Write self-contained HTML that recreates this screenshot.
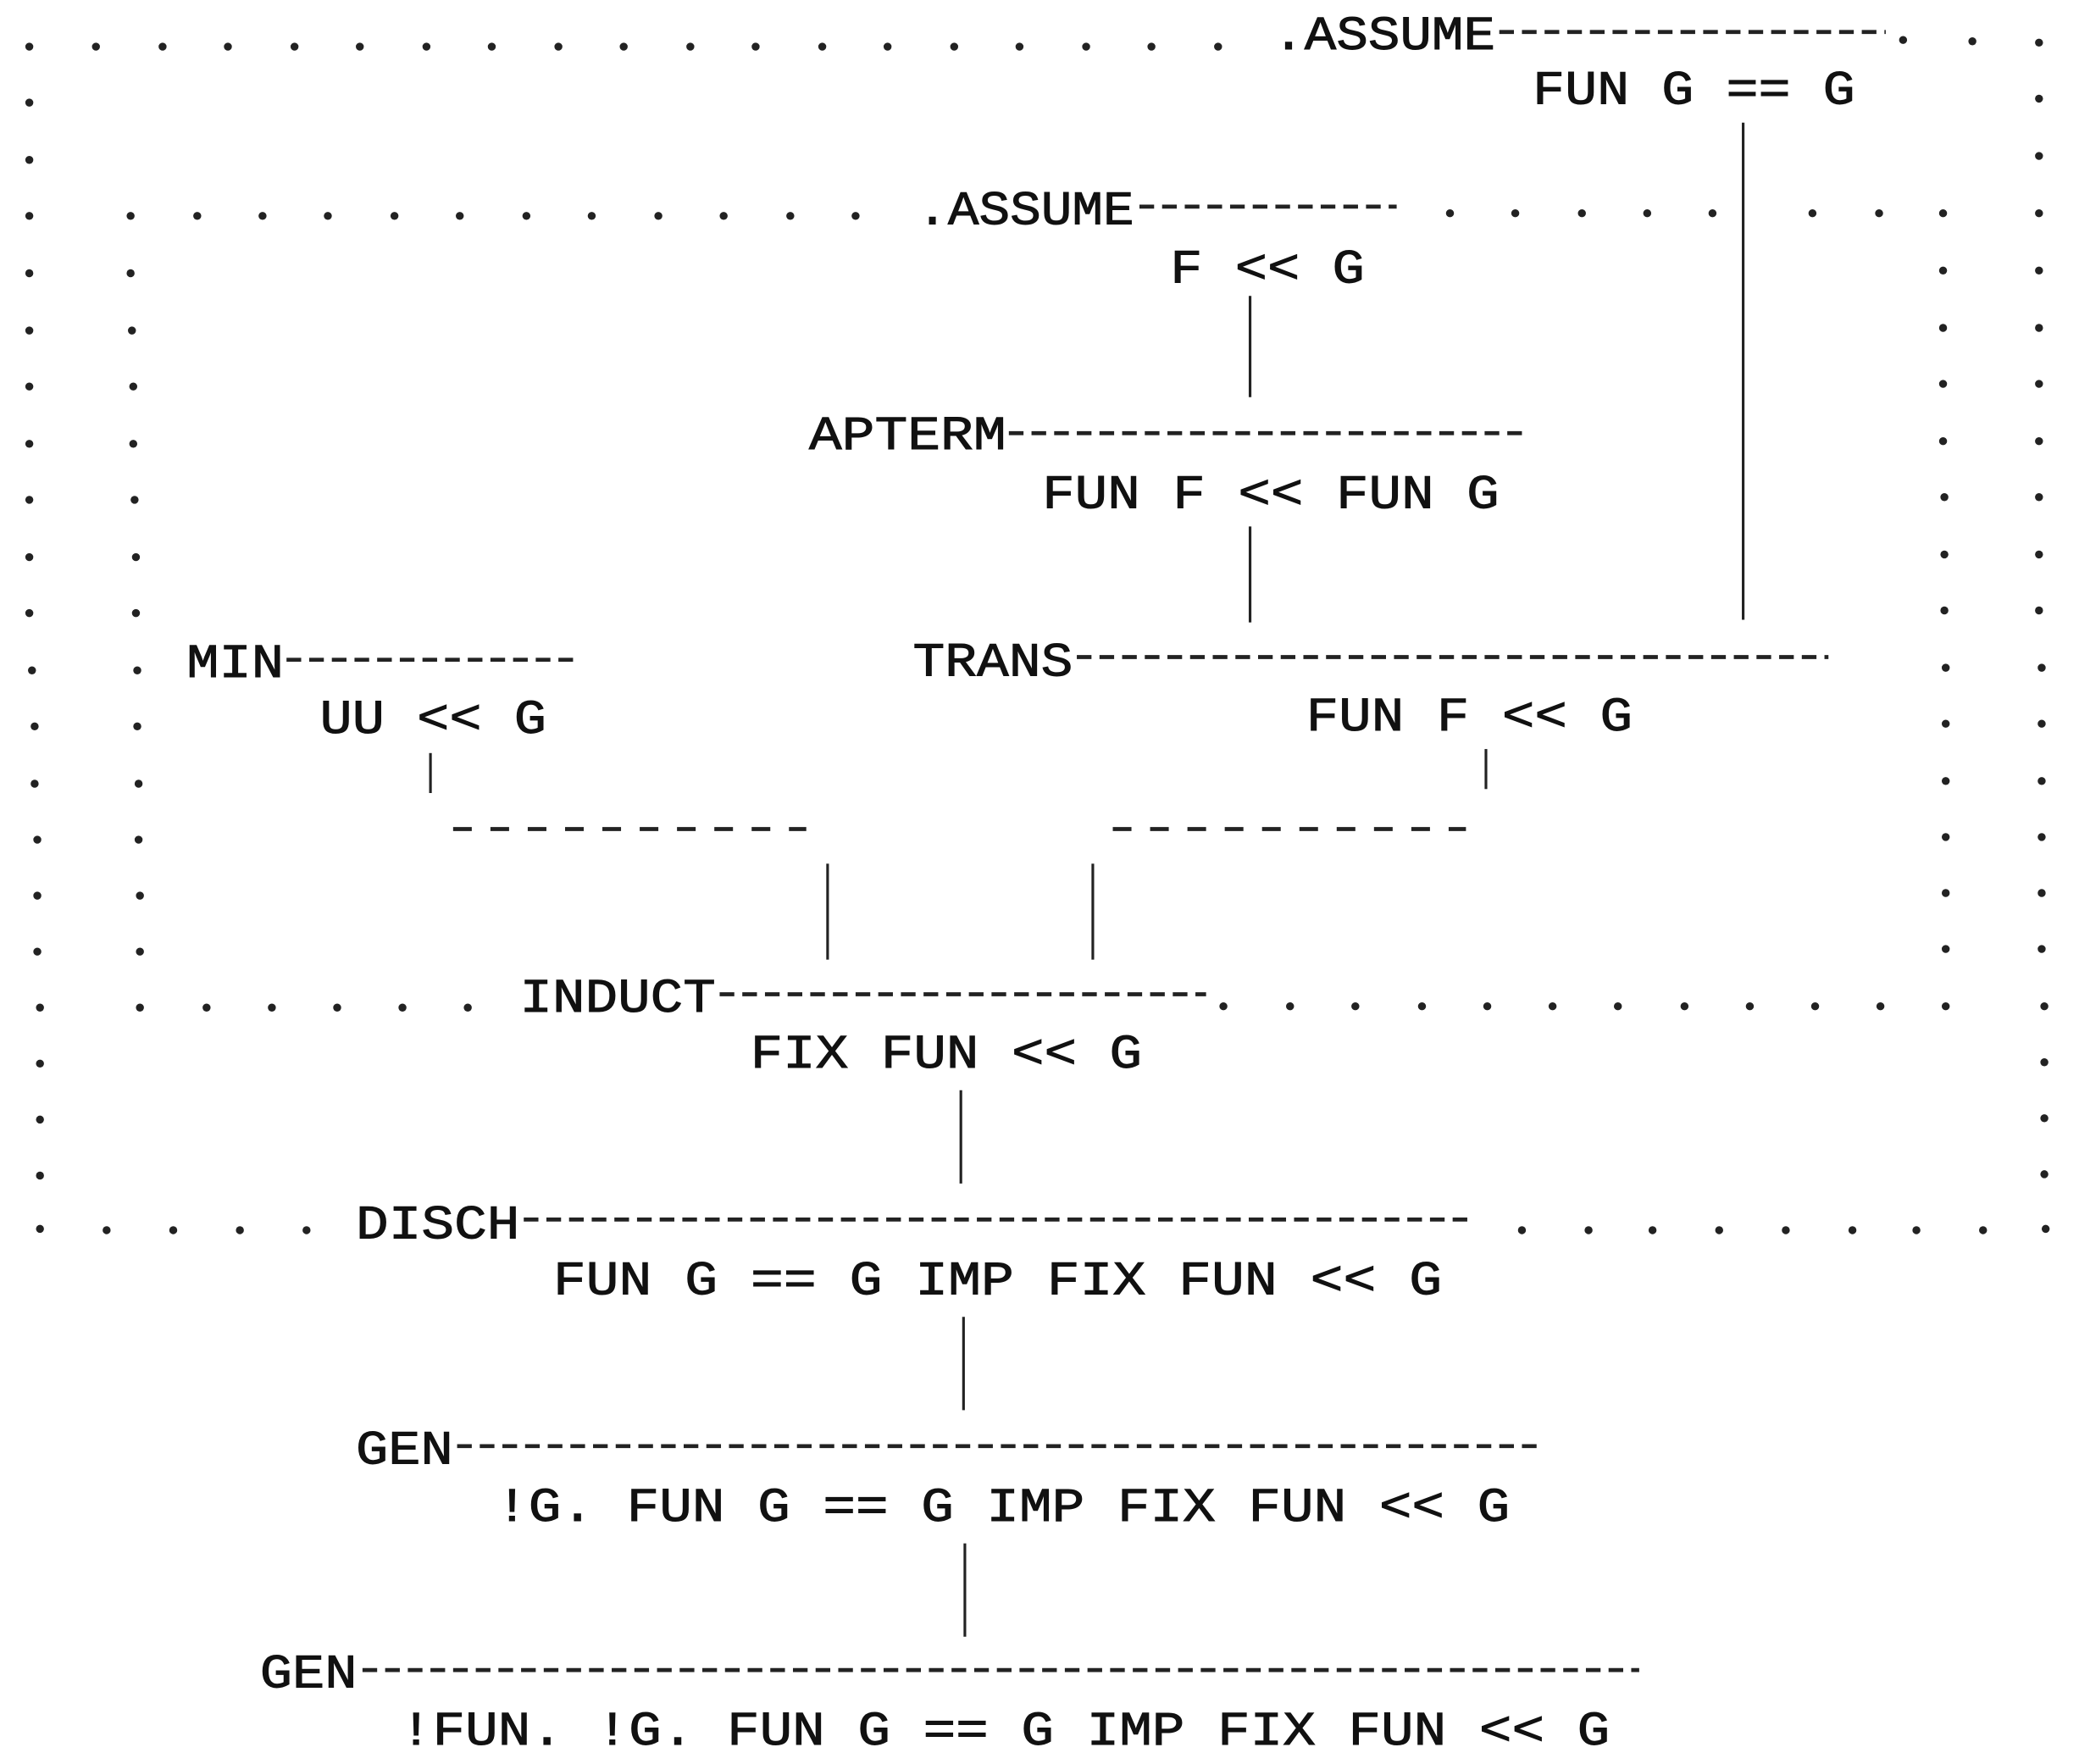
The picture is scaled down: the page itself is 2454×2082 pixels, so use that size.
<!DOCTYPE html>
<html><head><meta charset="utf-8"><style>
html,body{margin:0;padding:0;background:#fff;width:2454px;height:2082px;overflow:hidden}
svg{display:block}
text{font-family:"Liberation Mono",monospace;font-size:36px;fill:#111;stroke:#111;stroke-width:0.6}
.d{stroke:#222;stroke-width:3;stroke-dasharray:11 6;fill:none}
.v{stroke:#222;stroke-width:2;fill:none}
circle{fill:#222}
</style></head><body>
<svg width="2454" height="2082" viewBox="0 0 1560 1323.5" preserveAspectRatio="none">
<g id="dots">
<g>
<circle cx="22" cy="35" r="3"/><circle cx="22" cy="77" r="3"/><circle cx="22" cy="120" r="3"/><circle cx="22" cy="162" r="3"/><circle cx="22" cy="205" r="3"/><circle cx="22" cy="248" r="3"/><circle cx="22" cy="290" r="3"/><circle cx="22" cy="333" r="3"/><circle cx="22" cy="375" r="3"/><circle cx="22" cy="418" r="3"/><circle cx="22" cy="460" r="3"/><circle cx="24" cy="503" r="3"/><circle cx="26" cy="545" r="3"/><circle cx="26" cy="588" r="3"/><circle cx="28" cy="630" r="3"/><circle cx="28" cy="672" r="3"/><circle cx="28" cy="714" r="3"/><circle cx="30" cy="756" r="3"/><circle cx="30" cy="798" r="3"/><circle cx="30" cy="840" r="3"/><circle cx="30" cy="882" r="3"/><circle cx="30" cy="922" r="3"/>
<circle cx="1530" cy="32" r="3"/><circle cx="1530" cy="74" r="3"/><circle cx="1530" cy="117" r="3"/><circle cx="1530" cy="160" r="3"/><circle cx="1530" cy="203" r="3"/><circle cx="1530" cy="246" r="3"/><circle cx="1530" cy="288" r="3"/><circle cx="1530" cy="331" r="3"/><circle cx="1530" cy="373" r="3"/><circle cx="1530" cy="416" r="3"/><circle cx="1530" cy="458" r="3"/><circle cx="1532" cy="501" r="3"/><circle cx="1532" cy="543" r="3"/><circle cx="1532" cy="586" r="3"/><circle cx="1532" cy="628" r="3"/><circle cx="1532" cy="670" r="3"/><circle cx="1532" cy="712" r="3"/><circle cx="1534" cy="755" r="3"/><circle cx="1534" cy="797" r="3"/><circle cx="1534" cy="839" r="3"/><circle cx="1534" cy="881" r="3"/><circle cx="1535" cy="922" r="3"/>
</g>
<g>
<circle cx="72" cy="35" r="3"/><circle cx="122" cy="35" r="3"/><circle cx="171" cy="35" r="3"/><circle cx="221" cy="35" r="3"/><circle cx="270" cy="35" r="3"/><circle cx="320" cy="35" r="3"/><circle cx="369" cy="35" r="3"/><circle cx="419" cy="35" r="3"/><circle cx="468" cy="35" r="3"/><circle cx="518" cy="35" r="3"/><circle cx="567" cy="35" r="3"/><circle cx="617" cy="35" r="3"/><circle cx="666" cy="35" r="3"/><circle cx="716" cy="35" r="3"/><circle cx="765" cy="35" r="3"/><circle cx="815" cy="35" r="3"/><circle cx="864" cy="35" r="3"/><circle cx="914" cy="35" r="3"/>
<circle cx="1428" cy="30" r="3"/><circle cx="1480" cy="31" r="3"/>
</g>
<g>
<circle cx="98" cy="162" r="3"/><circle cx="148" cy="162" r="3"/><circle cx="197" cy="162" r="3"/><circle cx="246" cy="162" r="3"/><circle cx="296" cy="162" r="3"/><circle cx="345" cy="162" r="3"/><circle cx="395" cy="162" r="3"/><circle cx="444" cy="162" r="3"/><circle cx="494" cy="162" r="3"/><circle cx="543" cy="162" r="3"/><circle cx="593" cy="162" r="3"/><circle cx="642" cy="162" r="3"/>
<circle cx="1088" cy="160" r="3"/><circle cx="1137" cy="160" r="3"/><circle cx="1187" cy="160" r="3"/><circle cx="1236" cy="160" r="3"/><circle cx="1285" cy="160" r="3"/><circle cx="1360" cy="160" r="3"/><circle cx="1410" cy="160" r="3"/><circle cx="1458" cy="160" r="3"/>
</g>
<g>
<circle cx="98" cy="205" r="3"/><circle cx="99" cy="248" r="3"/><circle cx="100" cy="290" r="3"/><circle cx="100" cy="333" r="3"/><circle cx="101" cy="375" r="3"/><circle cx="102" cy="418" r="3"/><circle cx="102" cy="460" r="3"/><circle cx="103" cy="503" r="3"/><circle cx="103" cy="545" r="3"/><circle cx="104" cy="588" r="3"/><circle cx="104" cy="630" r="3"/><circle cx="105" cy="672" r="3"/><circle cx="105" cy="714" r="3"/>
<circle cx="1458" cy="203" r="3"/><circle cx="1458" cy="246" r="3"/><circle cx="1458" cy="288" r="3"/><circle cx="1458" cy="331" r="3"/><circle cx="1459" cy="373" r="3"/><circle cx="1459" cy="416" r="3"/><circle cx="1459" cy="458" r="3"/><circle cx="1460" cy="501" r="3"/><circle cx="1460" cy="543" r="3"/><circle cx="1460" cy="586" r="3"/><circle cx="1460" cy="628" r="3"/><circle cx="1460" cy="670" r="3"/><circle cx="1460" cy="712" r="3"/>
</g>
<g>
<circle cx="105" cy="756" r="3"/><circle cx="155" cy="756" r="3"/><circle cx="204" cy="756" r="3"/><circle cx="253" cy="756" r="3"/><circle cx="302" cy="756" r="3"/><circle cx="351" cy="756" r="3"/>
<circle cx="918" cy="755" r="3"/><circle cx="968" cy="755" r="3"/><circle cx="1017" cy="755" r="3"/><circle cx="1067" cy="755" r="3"/><circle cx="1116" cy="755" r="3"/><circle cx="1165" cy="755" r="3"/><circle cx="1214" cy="755" r="3"/><circle cx="1264" cy="755" r="3"/><circle cx="1313" cy="755" r="3"/><circle cx="1362" cy="755" r="3"/><circle cx="1411" cy="755" r="3"/><circle cx="1460" cy="755" r="3"/>
</g>
<g>
<circle cx="80" cy="923" r="3"/><circle cx="130" cy="923" r="3"/><circle cx="180" cy="923" r="3"/><circle cx="230" cy="923" r="3"/>
<circle cx="1142" cy="923" r="3"/><circle cx="1192" cy="923" r="3"/><circle cx="1240" cy="923" r="3"/><circle cx="1290" cy="923" r="3"/><circle cx="1340" cy="923" r="3"/><circle cx="1390" cy="923" r="3"/><circle cx="1438" cy="923" r="3"/><circle cx="1488" cy="923" r="3"/>
</g>
</g>

<line class="d" x1="1125" y1="24" x2="1415" y2="24"/>
<line class="d" x1="855" y1="155" x2="1048" y2="155"/>
<line class="d" x1="757" y1="325" x2="1148" y2="325"/>
<line class="d" x1="215" y1="495" x2="435" y2="495"/>
<line class="d" x1="808" y1="493" x2="1372" y2="493"/>
<line class="d" x1="340" y1="622" x2="605" y2="622" style="stroke-dasharray:14 14"/>
<line class="d" x1="835" y1="622" x2="1100" y2="622" style="stroke-dasharray:14 14"/>
<line class="d" x1="540" y1="746" x2="905" y2="746"/>
<line class="d" x1="393" y1="915" x2="1105" y2="915"/>
<line class="d" x1="343" y1="1085" x2="1155" y2="1085"/>
<line class="d" x1="272" y1="1253" x2="1230" y2="1253"/>

<line class="v" x1="1308" y1="92" x2="1308" y2="465"/>
<line class="v" x1="938" y1="222" x2="938" y2="298"/>
<line class="v" x1="938" y1="395" x2="938" y2="467"/>
<line class="v" x1="323" y1="565" x2="323" y2="595"/>
<line class="v" x1="1115" y1="562" x2="1115" y2="592"/>
<line class="v" x1="621" y1="648" x2="621" y2="720"/>
<line class="v" x1="820" y1="648" x2="820" y2="720"/>
<line class="v" x1="721" y1="818" x2="721" y2="888"/>
<line class="v" x1="723" y1="988" x2="723" y2="1058"/>
<line class="v" x1="724" y1="1158" x2="724" y2="1228"/>

<text x="955" y="37" textLength="167" lengthAdjust="spacingAndGlyphs">.ASSUME</text>
<text x="1150" y="78" textLength="242" lengthAdjust="spacingAndGlyphs">FUN G == G</text>
<text x="688" y="168" textLength="163" lengthAdjust="spacingAndGlyphs">.ASSUME</text>
<text x="878" y="212" textLength="146" lengthAdjust="spacingAndGlyphs">F &lt;&lt; G</text>
<text x="607" y="337" textLength="148" lengthAdjust="spacingAndGlyphs">APTERM</text>
<text x="782" y="381" textLength="343" lengthAdjust="spacingAndGlyphs">FUN F &lt;&lt; FUN G</text>
<text x="140" y="508" textLength="73" lengthAdjust="spacingAndGlyphs">MIN</text>
<text x="685" y="507" textLength="120" lengthAdjust="spacingAndGlyphs">TRANS</text>
<text x="240" y="550" textLength="170" lengthAdjust="spacingAndGlyphs">UU &lt;&lt; G</text>
<text x="980" y="548" textLength="245" lengthAdjust="spacingAndGlyphs">FUN F &lt;&lt; G</text>
<text x="390" y="759" textLength="147" lengthAdjust="spacingAndGlyphs">INDUCT</text>
<text x="563" y="801" textLength="294" lengthAdjust="spacingAndGlyphs">FIX FUN &lt;&lt; G</text>
<text x="267" y="929" textLength="123" lengthAdjust="spacingAndGlyphs">DISCH</text>
<text x="415" y="971" textLength="667" lengthAdjust="spacingAndGlyphs">FUN G == G IMP FIX FUN &lt;&lt; G</text>
<text x="267" y="1098" textLength="73" lengthAdjust="spacingAndGlyphs">GEN</text>
<text x="372" y="1141" textLength="761" lengthAdjust="spacingAndGlyphs">!G. FUN G == G IMP FIX FUN &lt;&lt; G</text>
<text x="195" y="1266" textLength="73" lengthAdjust="spacingAndGlyphs">GEN</text>
<text x="300" y="1309" textLength="908" lengthAdjust="spacingAndGlyphs">!FUN. !G. FUN G == G IMP FIX FUN &lt;&lt; G</text>
</svg>
</body></html>
